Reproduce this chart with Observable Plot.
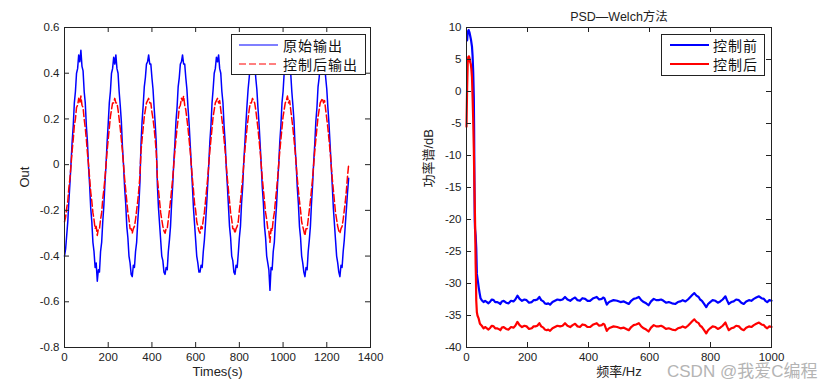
<!DOCTYPE html>
<html><head><meta charset="utf-8">
<script src="https://cdn.jsdelivr.net/npm/d3@7"></script>
<script src="https://cdn.jsdelivr.net/npm/@observablehq/plot@0.6"></script>
<style>
body{margin:0;background:#fff;}
#wrap{position:relative;width:840px;height:386px;overflow:hidden;background:#fff;font-family:"Liberation Sans","Noto Sans CJK SC",sans-serif;}
.panel{position:absolute;top:0;}
.legend{position:absolute;border:1px solid #222;background:#fff;box-sizing:border-box;}
.legend svg{position:absolute;left:0;top:0;}
#wm{position:absolute;left:667px;top:357px;font-size:17px;color:#b4b4b4;font-family:"Liberation Sans","Noto Sans CJK SC",sans-serif;white-space:nowrap;}
</style></head><body>
<div id="wrap">
  <div id="left" class="panel" style="left:0;"></div>
  <div id="right" class="panel" style="left:400px;"></div>
  <div class="legend" style="left:231px;top:34px;width:135px;height:41px;">
    <svg width="135" height="41">
      <line x1="7" x2="46" y1="10" y2="10" stroke="#0000ff" stroke-width="1.2"/>
      <line x1="7" x2="46" y1="29" y2="29" stroke="#ff0000" stroke-width="1.2" stroke-dasharray="7,3"/>
      <text x="51" y="10" dominant-baseline="central" font-size="14" letter-spacing="1" font-family="Noto Sans CJK SC" fill="#111">原始输出</text>
      <text x="51" y="29" dominant-baseline="central" font-size="14" letter-spacing="1" font-family="Noto Sans CJK SC" fill="#111">控制后输出</text>
    </svg>
  </div>
  <div class="legend" style="left:661px;top:34px;width:104px;height:42px;">
    <svg width="104" height="42">
      <line x1="8" x2="47" y1="10" y2="10" stroke="#0000ff" stroke-width="2.2"/>
      <line x1="8" x2="47" y1="29" y2="29" stroke="#ff0000" stroke-width="2.2"/>
      <text x="51" y="10" dominant-baseline="central" font-size="14" letter-spacing="1" font-family="Noto Sans CJK SC" fill="#111">控制前</text>
      <text x="51" y="29" dominant-baseline="central" font-size="14" letter-spacing="1" font-family="Noto Sans CJK SC" fill="#111">控制后</text>
    </svg>
  </div>
  <div id="wm">CSDN @我爱C编程</div>
</div>
<script>
// ---- Left panel: time series ----
const times = [
0,5,10,15,20,25,30,35,40,45,50,55,60,65,70,75,80,85,90,95,
100,105,110,115,120,125,130,135,140,145,150,155,160,165,170,175,180,185,190,195,
200,205,210,215,220,225,230,235,240,245,250,255,260,265,270,275,280,285,290,295,
300,305,310,315,320,325,330,335,340,345,350,355,360,365,370,375,380,385,390,395,
400,405,410,415,420,425,430,435,440,445,450,455,460,465,470,475,480,485,490,495,
500,505,510,515,520,525,530,535,540,545,550,555,560,565,570,575,580,585,590,595,
600,605,610,615,620,625,630,635,640,645,650,655,660,665,670,675,680,685,690,695,
700,705,710,715,720,725,730,735,740,745,750,755,760,765,770,775,780,785,790,795,
800,805,810,815,820,825,830,835,840,845,850,855,860,865,870,875,880,885,890,895,
900,905,910,915,920,925,930,935,940,945,950,955,960,965,970,975,980,985,990,995,
1000,1005,1010,1015,1020,1025,1030,1035,1040,1045,1050,1055,1060,1065,1070,1075,1080,1085,1090,1095,
1100,1105,1110,1115,1120,1125,1130,1135,1140,1145,1150,1155,1160,1165,1170,1175,1180,1185,1190,1195,
1200,1205,1210,1215,1220,1225,1230,1235,1240,1245,1250,1255,1260,1265,1270,1275,1280,1285,1290,1295,
1300];
const originalOut = [
-0.40,-0.37,-0.31,-0.25,-0.16,-0.08,0.01,0.10,0.17,0.27,0.32,0.40,0.42,0.48,0.45,0.50,0.43,0.41,0.32,0.27,
0.17,0.10,-0.01,-0.09,-0.19,-0.25,-0.34,-0.38,-0.45,-0.43,
-0.51,-0.46,-0.47,-0.38,-0.34,-0.25,-0.18,-0.08,0.00,0.10,0.18,0.27,0.32,0.40,0.42,0.47,0.44,0.48,0.42,0.40,
0.32,0.26,0.19,0.08,0.00,-0.10,-0.17,-0.27,-0.32,-0.40,-0.43,-0.48,
-0.49,-0.44,-0.45,-0.38,-0.34,-0.25,-0.18,-0.08,0.09,0.19,0.26,0.34,0.38,0.44,0.45,0.48,0.44,0.44,0.38,0.33,
0.25,0.18,0.09,-0.09,-0.19,-0.26,-0.33,-0.40,-0.42,-0.47,
-0.48,-0.45,-0.46,-0.38,-0.33,-0.27,-0.17,-0.09,0.01,0.09,0.19,0.25,0.34,0.38,0.44,0.45,0.48,0.44,0.44,0.38,
0.33,0.25,0.18,0.09,0.00,-0.09,-0.19,-0.26,-0.33,-0.40,-0.43,-0.47,
-0.47,-0.44,-0.45,-0.38,-0.33,-0.26,-0.18,-0.09,0.00,0.10,0.17,0.27,0.33,0.40,0.42,0.47,0.45,0.48,0.42,0.40,
0.32,0.27,0.17,0.10,-0.01,-0.09,-0.18,-0.27,-0.32,-0.40,-0.42,-0.47,
-0.48,-0.44,-0.45,-0.39,-0.32,-0.27,-0.17,-0.10,0.01,0.09,0.18,0.26,0.33,0.38,0.44,0.44,0.48,0.44,0.45,0.38,
0.33,0.25,0.18,0.09,0.00,-0.10,-0.17,-0.27,-0.32,-0.40,-0.43,-0.46,
-0.55,-0.45,-0.46,-0.38,-0.34,-0.25,-0.18,-0.08,0.00,0.10,0.17,0.27,0.32,0.40,0.42,0.47,0.44,0.48,0.42,0.40,
0.32,0.26,0.19,0.08,0.00,-0.10,-0.17,-0.27,-0.32,-0.40,-0.43,-0.47,
-0.49,-0.45,-0.46,-0.38,-0.33,-0.27,-0.17,-0.09,0.01,0.09,0.19,0.25,0.34,0.38,0.44,0.45,0.48,0.44,0.44,0.38,
0.33,0.25,0.18,0.09,0.00,-0.09,-0.19,-0.26,-0.33,-0.40,-0.43,-0.47,
-0.49,-0.44,-0.45,-0.38,-0.33,-0.26,-0.19,-0.12,-0.06];
const controlledOut = [
-0.25,-0.23,-0.19,-0.16,-0.10,-0.06,0.00,0.06,0.11,0.17,0.20,0.25,0.26,0.29,0.27,0.30,0.26,0.25,0.20,0.16,
0.11,0.05,0.00,-0.06,-0.12,-0.16,-0.21,-0.24,-0.28,-0.27,
-0.31,-0.28,-0.28,-0.24,-0.21,-0.15,-0.11,-0.06,0.00,0.06,0.11,0.16,0.21,0.24,0.27,0.27,0.29,0.27,0.27,0.24,
0.20,0.16,0.11,0.06,0.00,-0.06,-0.11,-0.16,-0.21,-0.24,-0.28,-0.28,
-0.30,-0.28,-0.27,-0.24,-0.20,-0.16,-0.11,-0.05,0.06,0.11,0.16,0.21,0.24,0.27,0.28,0.29,0.27,0.27,0.23,0.20,
0.16,0.11,0.05,-0.06,-0.11,-0.16,-0.21,-0.24,-0.27,-0.29,
-0.30,-0.28,-0.28,-0.24,-0.20,-0.16,-0.11,-0.06,0.00,0.06,0.11,0.16,0.20,0.25,0.26,0.29,0.28,0.30,0.26,0.24,
0.20,0.16,0.11,0.06,0.00,-0.06,-0.11,-0.17,-0.20,-0.25,-0.27,-0.29,
-0.30,-0.27,-0.28,-0.24,-0.21,-0.16,-0.11,-0.06,0.00,0.06,0.11,0.16,0.21,0.24,0.27,0.28,0.29,0.27,0.28,0.24,
0.20,0.16,0.11,0.06,0.00,-0.06,-0.11,-0.16,-0.21,-0.24,-0.28,-0.28,
-0.30,-0.28,-0.27,-0.25,-0.20,-0.16,-0.11,-0.06,0.00,0.06,0.11,0.16,0.20,0.24,0.27,0.27,0.29,0.28,0.27,0.24,
0.20,0.16,0.11,0.06,0.00,-0.06,-0.11,-0.16,-0.21,-0.24,-0.28,-0.29,
-0.34,-0.28,-0.29,-0.24,-0.21,-0.16,-0.11,-0.06,0.00,0.06,0.11,0.16,0.21,0.24,0.27,0.28,0.30,0.27,0.28,0.24,
0.20,0.16,0.11,0.06,0.00,-0.06,-0.11,-0.16,-0.20,-0.25,-0.27,-0.29,
-0.31,-0.28,-0.28,-0.24,-0.20,-0.16,-0.11,-0.06,0.00,0.06,0.11,0.16,0.21,0.24,0.27,0.28,0.29,0.27,0.28,0.24,
0.20,0.16,0.11,0.06,0.00,-0.06,-0.11,-0.16,-0.21,-0.24,-0.27,-0.29,
-0.30,-0.28,-0.27,-0.24,-0.20,-0.16,-0.11,-0.05,0.00];
const leftXTicks = [0,200,400,600,800,1000,1200,1400];
const leftYTicks = [-0.8,-0.6,-0.4,-0.2,0,0.2,0.4,0.6];

// ---- Right panel: PSD (Welch) ----
const lowFreqBefore = [2,4,7,10,12,15,18,20,22,24,25,26,27,28,30,32,34,37,40,43,46,50];
const lowPsdBefore = [8.0,9.3,9.6,9.2,8.7,8.0,7.0,5.5,3.0,-1.0,-6,-14,-20,-21.5,-22.5,-24.5,-28.5,-29.5,-30.6,-31.5,-32.3,-32.6];
const lowFreqAfter = [0,2,4,6,8,10,12,14,16,18,20,22,24,26,28,29,30,31,32,34,36,40,44,50];
const lowPsdAfter = [-5.5,0.5,4.5,5.4,5.5,5.2,4.6,4.3,3.5,2.2,-1,-4.5,-9,-15,-20,-23.3,-27,-29,-32.7,-34.5,-35,-35.5,-36.3,-36.6];
const plateauFreq = [
56,61,67,72,78,83,89,94,100,105,111,116,122,130,138,146,154,160,167,174,
182,190,197,205,214,220,226,232,239,245,252,257,263,268,274,282,290,298,307,315,
323,331,340,348,356,364,372,380,389,397,405,416,427,435,444,448,452,456,460,465,
471,482,494,505,516,524,532,540,548,556,565,573,581,589,597,605,614,622,630,638,
646,654,663,674,685,693,701,709,718,726,734,740,747,754,761,766,772,779,786,792,
799,807,816,824,832,840,849,854,860,868,876,884,893,901,909,917,926,934,942,950,
959,967,975,980,986,993,1000];
const plateauBefore = [
-32.9,-32.7,-32.9,-33.1,-32.8,-32.5,-32.6,-32.9,-32.9,-33.0,-33.2,-32.8,-32.7,-33.0,-33.1,-32.7,-32.8,-32.5,-31.9,-32.4,
-32.7,-32.5,-32.6,-33.0,-32.9,-32.6,-32.6,-32.5,-32.1,-32.6,-32.8,-33.1,-33.2,-33.1,-33.3,-32.9,-32.7,-32.5,-32.6,-32.5,
-32.1,-32.5,-32.7,-32.4,-32.2,-32.6,-32.7,-32.3,-32.4,-32.7,-32.7,-32.3,-32.1,-32.5,-32.4,-32.2,-32.3,-32.8,-33.3,-33.0,
-32.8,-32.6,-32.7,-32.9,-32.8,-33.0,-33.2,-32.7,-32.4,-32.3,-32.1,-32.6,-32.9,-33.1,-33.4,-32.8,-32.4,-32.6,-32.6,-32.5,
-32.7,-33.0,-32.9,-33.1,-33.2,-32.9,-32.8,-32.6,-32.8,-32.5,-32.1,-31.8,-31.5,-31.9,-32.1,-32.5,-32.7,-33.2,-33.7,-33.2,
-32.9,-32.6,-32.7,-33.0,-32.8,-32.5,-32.0,-32.6,-33.2,-32.9,-32.8,-32.5,-32.6,-33.0,-33.2,-32.8,-32.6,-32.7,-32.4,-32.2,
-32.0,-32.3,-32.4,-32.7,-32.9,-32.6,-32.7];
const plateauAfter = [
-37.0,-36.8,-37.0,-37.2,-36.9,-36.6,-36.7,-37.0,-37.0,-37.1,-37.3,-36.9,-36.8,-37.1,-37.2,-36.8,-36.9,-36.6,-36.0,-36.5,
-36.8,-36.6,-36.7,-37.1,-37.0,-36.7,-36.7,-36.6,-36.2,-36.7,-36.9,-37.2,-37.3,-37.2,-37.4,-37.0,-36.8,-36.6,-36.7,-36.6,
-36.2,-36.6,-36.8,-36.5,-36.3,-36.7,-36.8,-36.4,-36.5,-36.8,-36.8,-36.4,-36.2,-36.6,-36.5,-36.3,-36.4,-36.9,-37.4,-37.1,
-36.9,-36.7,-36.8,-37.0,-36.9,-37.1,-37.3,-36.8,-36.5,-36.4,-36.2,-36.7,-37.0,-37.2,-37.5,-36.9,-36.5,-36.7,-36.7,-36.6,
-36.8,-37.1,-37.0,-37.2,-37.3,-37.0,-36.9,-36.7,-36.9,-36.6,-36.2,-35.9,-35.6,-36.0,-36.2,-36.6,-36.8,-37.3,-37.8,-37.3,
-37.0,-36.7,-36.8,-37.1,-36.9,-36.6,-36.1,-36.7,-37.3,-37.0,-36.9,-36.6,-36.7,-37.1,-37.3,-36.9,-36.7,-36.8,-36.5,-36.3,
-36.1,-36.4,-36.5,-36.8,-37.0,-36.7,-36.8];
const rightXTicks = [0,200,400,600,800,1000];
const rightYTicks = [-40,-35,-30,-25,-20,-15,-10,-5,0,5,10];

const freqBefore = lowFreqBefore.concat(plateauFreq);
const psdBefore = lowPsdBefore.concat(plateauBefore);
const freqAfter = lowFreqAfter.concat(plateauFreq);
const psdAfter = lowPsdAfter.concat(plateauAfter);

const seriesLeftBlue = times.map((t,i)=>({t, v: originalOut[i]}));
const seriesLeftRed = times.map((t,i)=>({t, v: controlledOut[i]}));
const seriesRightBlue = freqBefore.map((f,i)=>({f, v: psdBefore[i]}));
const seriesRightRed = freqAfter.map((f,i)=>({f, v: psdAfter[i]}));

const fontFam = '"Liberation Sans", "Noto Sans CJK SC", Arial, sans-serif';
const ink = "#222";
const TICK = 5;

function panel({width, marginLeft, marginRight, xDomain, yDomain, xTicks, yTicks, lines, xLabel, yLabel, yLabelDx, title}) {
  const marginTop = 27, marginBottom = 39, height = 386;
  const pw = width - marginLeft - marginRight;
  const ph = height - marginTop - marginBottom;
  const marks = [
    ...lines,
    Plot.tickX(xTicks, {x: d => d, insetTop: ph - TICK, stroke: ink}),
    Plot.tickX(xTicks, {x: d => d, insetBottom: ph - TICK, stroke: ink}),
    Plot.tickY(yTicks, {y: d => d, insetRight: pw - TICK, stroke: ink}),
    Plot.tickY(yTicks, {y: d => d, insetLeft: pw - TICK, stroke: ink}),
    Plot.frame({stroke: ink}),
    Plot.axisX({ticks: xTicks, tickSize: 0, tickPadding: 5, label: null, tickFormat: d => String(d), fill: ink}),
    Plot.axisY({ticks: yTicks, tickSize: 0, tickPadding: 5, label: null, tickFormat: d => String(d), fill: ink}),
    Plot.text([xLabel], {frameAnchor: "bottom", dy: 28, fontSize: 13, fill: ink}),
    Plot.text([yLabel], {frameAnchor: "left", dx: yLabelDx, rotate: -90, fontSize: 13, fill: ink})
  ];
  if (title) marks.push(Plot.text([title], {frameAnchor: "top", dy: -15, fontSize: 12.5, fill: ink}));
  return Plot.plot({
    width, height, marginLeft, marginRight, marginTop, marginBottom,
    style: {fontFamily: fontFam, fontSize: "11.5px", background: "transparent", overflow: "visible", color: ink},
    x: {domain: xDomain},
    y: {domain: yDomain},
    marks
  });
}

document.getElementById("left").append(panel({
  width: 400, marginLeft: 64, marginRight: 30,
  xDomain: [0, 1400], yDomain: [-0.8, 0.6],
  xTicks: leftXTicks, yTicks: leftYTicks,
  lines: [
    Plot.line(seriesLeftBlue, {x: "t", y: "v", stroke: "#0000ff", strokeWidth: 1.5}),
    Plot.line(seriesLeftRed, {x: "t", y: "v", stroke: "#ff0000", strokeWidth: 1.5, strokeDasharray: "7,3"})
  ],
  xLabel: "Times(s)", yLabel: "Out", yLabelDx: -40
}));

document.getElementById("right").append(panel({
  width: 440, marginLeft: 66, marginRight: 69,
  xDomain: [0, 1000], yDomain: [-40, 10],
  xTicks: rightXTicks, yTicks: rightYTicks,
  lines: [
    Plot.line(seriesRightBlue, {x: "f", y: "v", stroke: "#0000ff", strokeWidth: 2.2}),
    Plot.line(seriesRightRed, {x: "f", y: "v", stroke: "#ff0000", strokeWidth: 2.2})
  ],
  xLabel: "频率/Hz", yLabel: "功率谱/dB", yLabelDx: -38, title: "PSD—Welch方法"
}));
</script>
</body></html>
